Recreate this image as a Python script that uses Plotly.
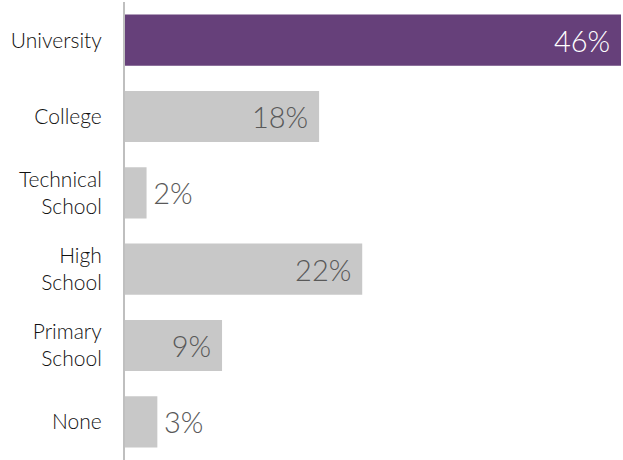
import plotly.graph_objects as go

categories = ["University", "College", "Technical<br>School", "High<br>School", "Primary<br>School", "None"]
shares = [46, 18, 2, 22, 9, 3]
label_position = ["inside", "inside", "outside", "inside", "inside", "outside"]
bar_colors = ["#66407A", "#C8C8C8", "#C8C8C8", "#C8C8C8", "#C8C8C8", "#C8C8C8"]
label_colors = ["#FFFFFF", "#595959", "#595959", "#595959", "#595959", "#595959"]

texts = [
    (f"{v}%\u00a0" if pos == "inside" else f"\u2009{v}%")
    for v, pos in zip(shares, label_position)
]

fig = go.Figure(
    go.Bar(
        x=shares,
        y=categories,
        orientation="h",
        marker=dict(color=bar_colors, line=dict(width=0)),
        text=texts,
        textposition=label_position,
        insidetextanchor="end",
        textfont=dict(family="Lato", size=29, color=label_colors, weight=300),
        outsidetextfont=dict(family="Lato", size=29, color="#595959", weight=300),
        cliponaxis=False,
        hoverinfo="skip",
    )
)

fig.update_layout(
    width=623,
    height=460,
    margin=dict(l=125, r=2, t=2, b=0),
    paper_bgcolor="white",
    plot_bgcolor="white",
    bargap=0.33,
    showlegend=False,
    uniformtext=dict(mode=False),
    xaxis=dict(
        range=[0, 46],
        visible=False,
        showgrid=False,
        zeroline=False,
    ),
    yaxis=dict(
        autorange="reversed",
        showline=True,
        linecolor="#BFBFBF",
        linewidth=2,
        showgrid=False,
        ticks="",
        ticklabelstandoff=17,
        tickfont=dict(family="Lato", size=21, color="#111111", weight=300),
    ),
)

fig.write_html("out.html")
